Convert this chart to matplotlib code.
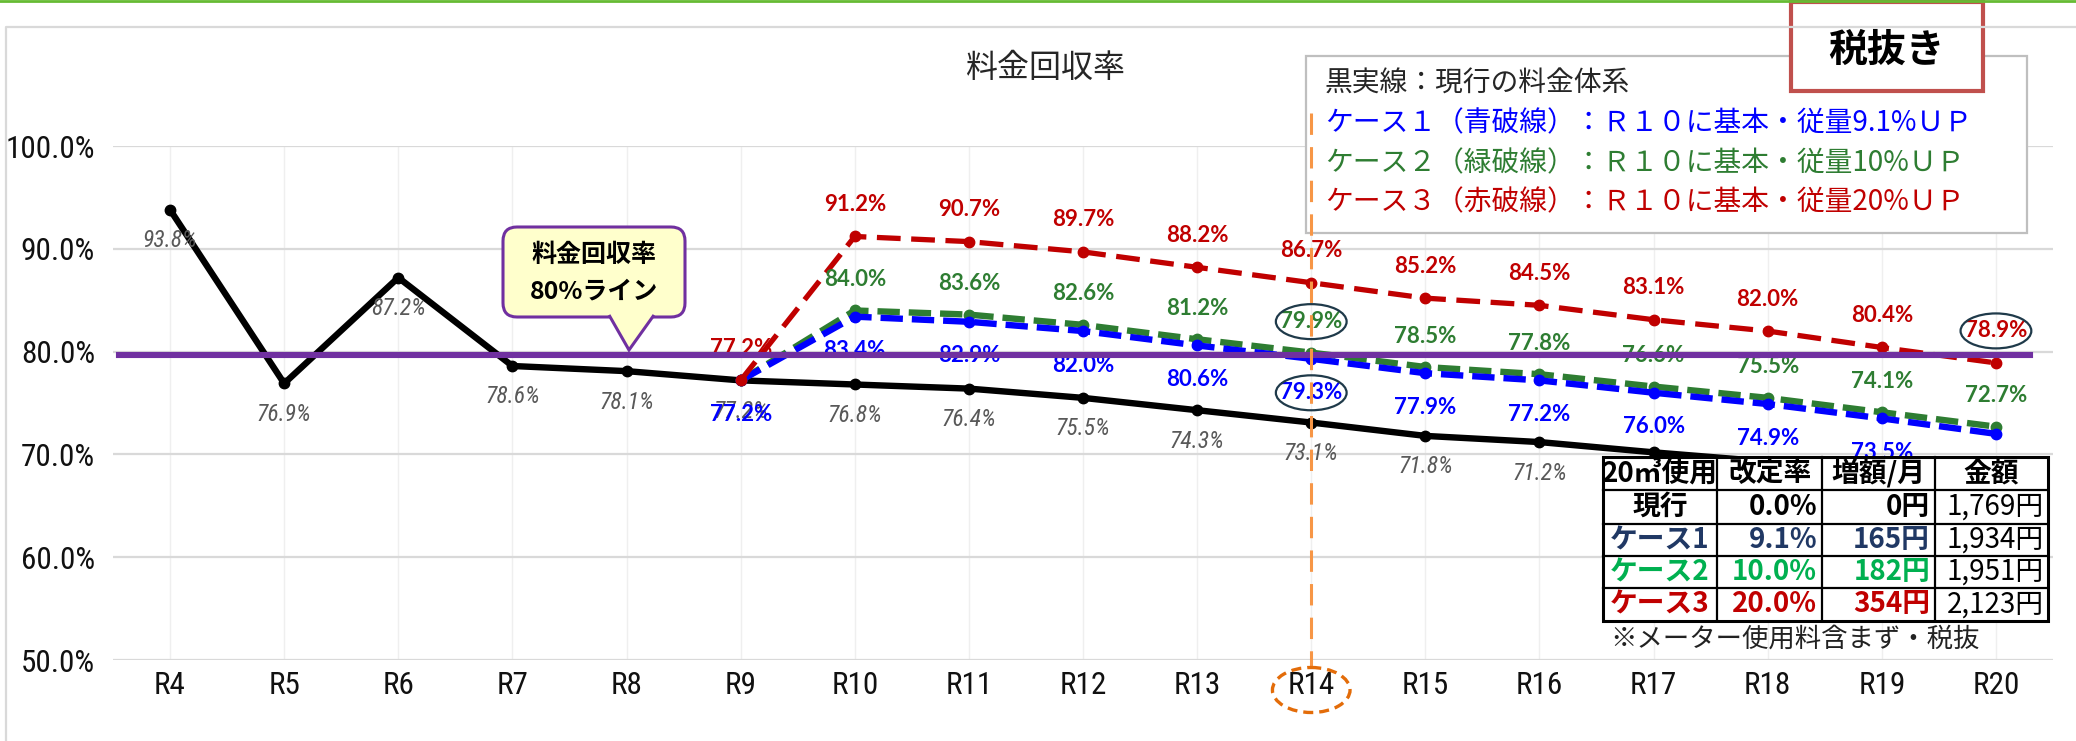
import matplotlib

matplotlib.use("Agg")
import matplotlib.pyplot as plt
import matplotlib.transforms as mtransforms
from matplotlib.lines import Line2D
from matplotlib.patches import Ellipse, FancyBboxPatch, Polygon, Rectangle
import numpy as np

W, H = 2076, 741
JP = ["Noto Sans CJK JP", "DejaVu Sans"]
NARROW = ["Roboto Condensed", "Liberation Sans Narrow", "Liberation Sans"]
LABEL = ["Lato", "DejaVu Sans"]

nan = np.nan
YEARS = ["R4", "R5", "R6", "R7", "R8", "R9", "R10", "R11", "R12", "R13",
         "R14", "R15", "R16", "R17", "R18", "R19", "R20"]
CURRENT = [0.938, 0.769, 0.872, 0.786, 0.781, 0.772, 0.768, 0.764, 0.755, 0.743,
           0.731, 0.718, 0.712, 0.702, 0.693, 0.684, 0.675]
CASE1 = [nan] * 5 + [0.772, 0.834, 0.829, 0.820, 0.806, 0.793, 0.779, 0.772,
                     0.760, 0.749, 0.735, 0.720]
CASE2 = [nan] * 5 + [0.772, 0.840, 0.836, 0.826, 0.812, 0.799, 0.785, 0.778,
                     0.766, 0.755, 0.741, 0.727]
CASE3 = [nan] * 5 + [0.772, 0.912, 0.907, 0.897, 0.882, 0.867, 0.852, 0.845,
                     0.831, 0.820, 0.804, 0.789]
TARGET = 0.7965
YTICKS = [0.5, 0.6, 0.7, 0.8, 0.9, 1.0]

LEGEND_LINES = [
    ("黒実線：現行の料金体系", "#262626"),
    ("ケース１（青破線）：Ｒ１０に基本・従量9.1%ＵＰ", "#0000ff"),
    ("ケース２（緑破線）：Ｒ１０に基本・従量10%ＵＰ", "#2e7d32"),
    ("ケース３（赤破線）：Ｒ１０に基本・従量20%ＵＰ", "#c00000"),
]
TABLE_HEAD = ["20㎥使用", "改定率", "増額/月", "金額"]
TABLE_NAME = ["現行", "ケース1", "ケース2", "ケース3"]
TABLE_RATE = ["0.0%", "9.1%", "10.0%", "20.0%"]
TABLE_UP = ["0円", "165円", "182円", "354円"]
TABLE_AMOUNT = ["1,769円", "1,934円", "1,951円", "2,123円"]
TABLE_COLORS = ["#000000", "#203864", "#00b050", "#c00000"]

fig = plt.figure(figsize=(W / 100, H / 100), dpi=100)
fig.patch.set_facecolor("white")
ax = fig.add_axes([113 / W, (H - 660) / H, (2053 - 113) / W, (660 - 146) / H])
px = mtransforms.Affine2D().scale(1.0 / W, -1.0 / H).translate(0, 1.0) + fig.transFigure
bt = mtransforms.blended_transform_factory(ax.transData, px)

# outer frame
fig.add_artist(Line2D([0, W], [1, 1], transform=px, color="#66bb33", lw=2))
fig.add_artist(Line2D([6, 6, W], [H, 27, 27], transform=px, color="#d9d9d9", lw=1.6))

x = np.arange(len(YEARS))
ax.set_xlim(-0.5, len(YEARS) - 0.5)
ax.set_ylim(0.5, 1.0)
for s in ax.spines.values():
    s.set_visible(False)
ax.set_axisbelow(True)
ax.grid(axis="y", color="#d9d9d9", lw=1.6)
ax.grid(axis="x", color="#efefef", lw=1)
ax.set_xticks(x, YEARS)
ax.set_yticks(YTICKS, [f"{v * 100:.1f}%" for v in YTICKS])
ax.tick_params(length=0)
ax.tick_params(axis="y", pad=13)
ax.tick_params(axis="x", pad=8)
for lab in ax.get_xticklabels() + ax.get_yticklabels():
    lab.set_fontfamily(NARROW)
    lab.set_fontsize(22.5)
    lab.set_color("#111111")

# series
ax.plot(x, CURRENT, color="black", lw=4.6, marker="o", ms=7.5, zorder=3, clip_on=False)
ax.plot(x, CASE1, color="#0000ff", lw=4.6, ls=(0, (3.5, 1.4)), marker="o", ms=7.5, zorder=3.2)
ax.plot(x, CASE2, color="#2e7d32", lw=4.6, ls=(0, (3.5, 1.4)), marker="o", ms=7.5, zorder=3.1)
ax.plot(x, CASE3, color="#c00000", lw=3.8, ls=(0, (4.5, 2)), marker="o", ms=7.5, zorder=3.3)


def labels(vals, dy, color, weight, style, skip=(), size=16, family=LABEL):
    for i, v in enumerate(vals):
        if np.isnan(v) or i in skip:
            continue
        ax.annotate(f"{v * 100:.1f}%", (i, v), xytext=(0, dy), textcoords="offset pixels",
                    ha="center", va="center", color=color, fontsize=size,
                    fontweight=weight, fontstyle=style, family=family,
                    zorder=4, annotation_clip=False)


labels(CURRENT, -31, "#595959", "normal", "italic", size=17, family=NARROW)
labels(CASE1, -34, "#0000ff", "bold", "normal")
labels(CASE2, 31, "#2e7d32", "bold", "normal", skip=(5,))
labels(CASE3, 32, "#c00000", "bold", "normal")

# circled labels
for vals, i, dy in [(CASE2, 10, 31), (CASE1, 10, -34), (CASE3, 16, 32)]:
    tr = mtransforms.offset_copy(ax.transData, fig=fig, x=0, y=dy, units="dots")
    ax.add_patch(Ellipse((i, vals[i]), 0.62, 0.034, transform=tr, fill=False,
                         ec="#1f3a4a", lw=1.6, zorder=4.5, clip_on=False))

# 80% line
ax.axhline(TARGET, xmin=0.003, xmax=0.988, color="#7030a0", lw=4.4, zorder=5)

# title
ax.text(1045, 68, "料金回収率", transform=px, ha="center", va="center",
        fontsize=23, family=JP, color="#262626")

# callout
ax.add_patch(FancyBboxPatch((503, 227), 182, 90, boxstyle="round,pad=0,rounding_size=14",
                            transform=px, fc="#ffffcc", ec="#7030a0", lw=2.2,
                            zorder=7, clip_on=False))
ax.add_patch(Polygon([(609, 315), (629, 350), (654, 315)], closed=False, transform=px,
                     fc="#ffffcc", ec="#7030a0", lw=2.2, zorder=7.1, clip_on=False))
ax.text(594, 255, "料金回収率", transform=px, ha="center", va="center", fontsize=18,
        fontweight="bold", family=JP, zorder=7.2)
ax.text(594, 292, "80%ライン", transform=px, ha="center", va="center", fontsize=18,
        fontweight="bold", family=JP, zorder=7.2)

# legend box
ax.add_patch(Rectangle((1306, 56), 721, 177, transform=px, fc="white", ec="#bfbfbf",
                       lw=1.6, zorder=6, clip_on=False))
for k, (txt, col) in enumerate(LEGEND_LINES):
    ax.text(1325, 84 + 39.5 * k, txt, transform=px, ha="left", va="center",
            fontsize=20, family=JP, color=col, zorder=6.1)

# tax box
ax.add_patch(Rectangle((1791, 2), 192, 89, transform=px, fc="white", ec="#c0504d",
                       lw=3, zorder=7, clip_on=False))
ax.text(1887, 50, "税抜き", transform=px, ha="center", va="center", fontsize=28,
        fontweight="bold", family=JP, zorder=7.1)

# R14 marker line and circle
ax.plot([10, 10], [113, 667], transform=bt, color="#f79646", lw=2.2,
        ls=(0, (7, 4)), zorder=8, clip_on=False)
ax.add_patch(Ellipse((10, 690), 0.68, 45, transform=bt, fill=False, ec="#e36c09",
                     lw=2.4, ls=(0, (3, 1.8)), zorder=8, clip_on=False))

# table
cols = [1603, 1717, 1822, 1935, 2048]
rows = [457, 490, 524, 556, 588, 621]
ax.add_patch(Rectangle((cols[0], rows[0]), cols[-1] - cols[0], rows[-1] - rows[0],
                       transform=px, fc="white", ec="black", lw=2.2, zorder=6,
                       clip_on=False))
for c in cols[1:-1]:
    ax.add_artist(Line2D([c, c], [rows[0], rows[-1]], transform=px, color="black",
                         lw=1.6, zorder=6.1))
for r in rows[1:-1]:
    ax.add_artist(Line2D([cols[0], cols[-1]], [r, r], transform=px, color="black",
                         lw=1.6, zorder=6.1))
cy = [(rows[k] + rows[k + 1]) / 2 for k in range(len(rows) - 1)]
for j, h in enumerate(TABLE_HEAD):
    ax.text((cols[j] + cols[j + 1]) / 2, cy[0], h, transform=px, ha="center", va="center",
            fontsize=20, family=JP, fontweight="bold", zorder=6.2)
for k in range(len(TABLE_NAME)):
    col = TABLE_COLORS[k]
    y = cy[k + 1]
    ax.text((cols[0] + cols[1]) / 2, y, TABLE_NAME[k], transform=px, ha="center",
            va="center", fontsize=20, family=JP, fontweight="bold", color=col, zorder=6.2)
    ax.text(cols[2] - 5, y, TABLE_RATE[k], transform=px, ha="right", va="center",
            fontsize=20, family=JP, fontweight="bold", color=col, zorder=6.2)
    ax.text(cols[3] - 5, y, TABLE_UP[k], transform=px, ha="right", va="center",
            fontsize=20, family=JP, fontweight="bold", color=col, zorder=6.2)
    ax.text(cols[4] - 4, y, TABLE_AMOUNT[k], transform=px, ha="right", va="center",
            fontsize=20, family=JP, color="black", zorder=6.2)
ax.text(1610, 639, "※メーター使用料含まず・税抜", transform=px, ha="left", va="center",
        fontsize=19, family=JP, color="#222222", zorder=6.2)

fig.savefig("out.png", dpi=100)
